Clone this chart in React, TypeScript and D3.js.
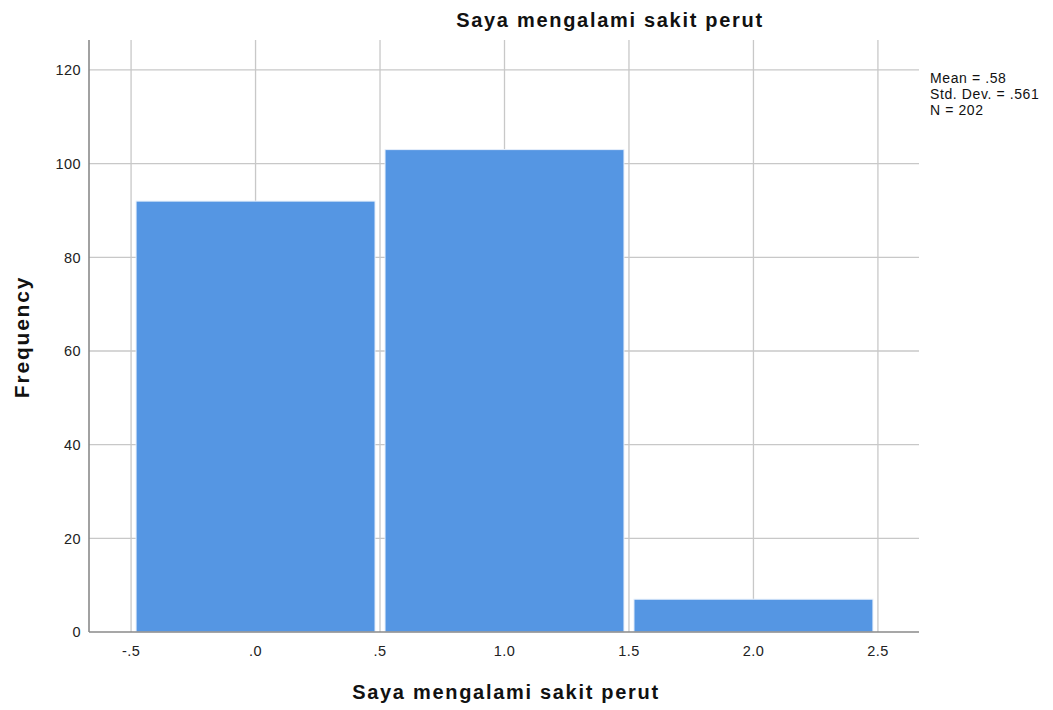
import React, { useEffect, useRef } from 'react';
import * as d3 from 'd3';

const binStarts = [-0.5, 0.5, 1.5];
const binEnds = [0.5, 1.5, 2.5];
const frequencies = [92, 103, 7];
const xTicks = [-0.5, 0, 0.5, 1, 1.5, 2, 2.5];
const xTickLabels = ['-.5', '.0', '.5', '1.0', '1.5', '2.0', '2.5'];
const yTicks = [0, 20, 40, 60, 80, 100, 120];
const statsLines = ['Mean = .58', 'Std. Dev. = .561', 'N = 202'];

const W = 1053;
const H = 710;
const FONT = 'Arial, "Liberation Sans", sans-serif';

export default function App() {
  const svgRef = useRef<SVGSVGElement>(null);

  useEffect(() => {
    if (!svgRef.current) return;
    const svg = d3.select(svgRef.current);
    svg.selectAll('*').remove();

    const left = 89, right = 919, top = 40, bottom = 632;

    const x = d3.scaleLinear().domain([-0.669, 2.665]).range([left, right]);
    const y = d3.scaleLinear().domain([0, 126.4]).range([bottom, top]);

    // grid
    svg.append('g')
      .selectAll('line')
      .data(yTicks.filter(d => d > 0))
      .join('line')
      .attr('x1', left).attr('x2', right)
      .attr('y1', d => y(d)).attr('y2', d => y(d))
      .attr('stroke', '#c8c8c8').attr('stroke-width', 1.3);

    svg.append('g')
      .selectAll('line')
      .data(xTicks)
      .join('line')
      .attr('x1', d => x(d)).attr('x2', d => x(d))
      .attr('y1', top).attr('y2', bottom)
      .attr('stroke', '#c8c8c8').attr('stroke-width', 1.3);

    // bars
    const gap = 5;
    svg.append('g')
      .selectAll('rect')
      .data(frequencies)
      .join('rect')
      .attr('x', (_, i) => x(binStarts[i]) + gap)
      .attr('width', (_, i) => x(binEnds[i]) - x(binStarts[i]) - 2 * gap)
      .attr('y', d => y(d))
      .attr('height', d => bottom - y(d))
      .attr('fill', '#5596e3')
      .attr('stroke', '#e6effb')
      .attr('stroke-width', 1);

    // axes lines
    svg.append('line')
      .attr('x1', left).attr('x2', left)
      .attr('y1', top).attr('y2', bottom)
      .attr('stroke', '#8a8a8a').attr('stroke-width', 1.6);
    svg.append('line')
      .attr('x1', left).attr('x2', right)
      .attr('y1', bottom).attr('y2', bottom)
      .attr('stroke', '#8a8a8a').attr('stroke-width', 1.6);

    // tick labels
    svg.append('g')
      .selectAll('text')
      .data(yTicks)
      .join('text')
      .attr('x', 81)
      .attr('y', d => y(d))
      .attr('dy', '0.36em')
      .attr('text-anchor', 'end')
      .attr('font-family', FONT)
      .attr('font-size', 14.5)
      .attr('letter-spacing', 0.4)
      .attr('fill', '#222')
      .text(d => d);

    svg.append('g')
      .selectAll('text')
      .data(xTicks)
      .join('text')
      .attr('x', d => x(d))
      .attr('y', 656)
      .attr('text-anchor', 'middle')
      .attr('font-family', FONT)
      .attr('font-size', 14.5)
      .attr('letter-spacing', 0.4)
      .attr('fill', '#222')
      .text((_, i) => xTickLabels[i]);

    // titles
    svg.append('text')
      .attr('x', 610).attr('y', 27)
      .attr('text-anchor', 'middle')
      .attr('font-family', FONT)
      .attr('font-size', 20)
      .attr('letter-spacing', 1.7)
      .attr('font-weight', 'bold')
      .attr('fill', '#111')
      .text('Saya mengalami sakit perut');

    svg.append('text')
      .attr('x', 506).attr('y', 699)
      .attr('text-anchor', 'middle')
      .attr('font-family', FONT)
      .attr('font-size', 20)
      .attr('letter-spacing', 1.7)
      .attr('font-weight', 'bold')
      .attr('fill', '#111')
      .text('Saya mengalami sakit perut');

    svg.append('text')
      .attr('transform', 'translate(29,337) rotate(-90)')
      .attr('text-anchor', 'middle')
      .attr('font-family', FONT)
      .attr('font-size', 21)
      .attr('letter-spacing', 1.8)
      .attr('font-weight', 'bold')
      .attr('fill', '#111')
      .text('Frequency');

    // stats
    svg.append('g')
      .selectAll('text')
      .data(statsLines)
      .join('text')
      .attr('x', 930)
      .attr('y', (_, i) => 83 + i * 16)
      .attr('font-family', FONT)
      .attr('font-size', 14)
      .attr('letter-spacing', 0.6)
      .attr('fill', '#111')
      .text(d => d);
  }, []);

  return (
    <svg
      ref={svgRef}
      width={W}
      height={H}
      style={{ position: 'absolute', left: 0, top: 0, background: '#fff' }}
    />
  );
}
